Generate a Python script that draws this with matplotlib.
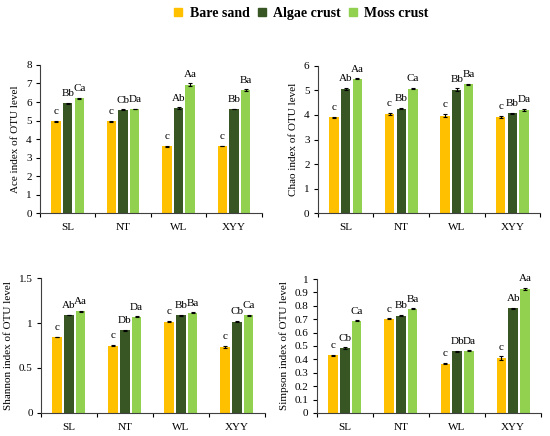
import matplotlib
matplotlib.use("Agg")
import matplotlib.pyplot as plt
from matplotlib.ticker import FuncFormatter
from matplotlib.lines import Line2D
import numpy as np

plt.rcParams['font.family'] = ['Liberation Serif', 'DejaVu Serif']

sites = ["SL", "NT", "WL", "XYY"]
series = ["Bare sand", "Algae crust", "Moss crust"]
colors = ["#FFC000", "#375623", "#92D050"]

ace_bare = [4.97, 4.95, 3.60, 3.62]
ace_algae = [5.93, 5.58, 5.68, 5.63]
ace_moss = [6.20, 5.62, 6.93, 6.65]
ace_err_bare = [0.03, 0.03, 0.03, 0.02]
ace_err_algae = [0.04, 0.02, 0.03, 0.02]
ace_err_moss = [0.02, 0.02, 0.07, 0.03]
ace_lab_bare = ["c", "c", "c", "c"]
ace_lab_algae = ["Bb", "Cb", "Ab", "Bb"]
ace_lab_moss = ["Ca", "Da", "Aa", "Ba"]

chao_bare = [3.90, 4.05, 3.97, 3.92]
chao_algae = [5.06, 4.25, 5.03, 4.06]
chao_moss = [5.47, 5.07, 5.25, 4.20]
chao_err_bare = [0.02, 0.04, 0.07, 0.03]
chao_err_algae = [0.03, 0.02, 0.05, 0.02]
chao_err_moss = [0.02, 0.02, 0.03, 0.04]
chao_lab_bare = ["c", "c", "c", "c"]
chao_lab_algae = ["Ab", "Bb", "Bb", "Bb"]
chao_lab_moss = ["Aa", "Ca", "Ba", "Da"]

shan_bare = [0.845, 0.750, 1.015, 0.735]
shan_algae = [1.090, 0.920, 1.085, 1.015]
shan_moss = [1.130, 1.070, 1.115, 1.085]
shan_err_bare = [0.005, 0.004, 0.005, 0.008]
shan_err_algae = [0.005, 0.004, 0.005, 0.008]
shan_err_moss = [0.005, 0.004, 0.004, 0.008]
shan_lab_bare = ["c", "c", "c", "c"]
shan_lab_algae = ["Ab", "Db", "Bb", "Cb"]
shan_lab_moss = ["Aa", "Da", "Ba", "Ca"]

simp_bare = [0.430, 0.702, 0.368, 0.410]
simp_algae = [0.485, 0.725, 0.460, 0.780]
simp_moss = [0.688, 0.777, 0.463, 0.925]
simp_err_bare = [0.004, 0.004, 0.004, 0.012]
simp_err_algae = [0.004, 0.004, 0.004, 0.004]
simp_err_moss = [0.003, 0.003, 0.004, 0.010]
simp_lab_bare = ["c", "c", "c", "c"]
simp_lab_algae = ["Cb", "Bb", "Db", "Ab"]
simp_lab_moss = ["Ca", "Ba", "Da", "Aa"]

panels = [
    dict(vals=[ace_bare, ace_algae, ace_moss], errs=[ace_err_bare, ace_err_algae, ace_err_moss],
         labs=[ace_lab_bare, ace_lab_algae, ace_lab_moss], ylabel="Ace index of OTU level",
         ylim=8, step=1, rect=[0.0727, 0.511, 0.403, 0.340]),
    dict(vals=[chao_bare, chao_algae, chao_moss], errs=[chao_err_bare, chao_err_algae, chao_err_moss],
         labs=[chao_lab_bare, chao_lab_algae, chao_lab_moss], ylabel="Chao index of OTU level",
         ylim=6, step=1, rect=[0.578, 0.511, 0.404, 0.338]),
    dict(vals=[shan_bare, shan_algae, shan_moss], errs=[shan_err_bare, shan_err_algae, shan_err_moss],
         labs=[shan_lab_bare, shan_lab_algae, shan_lab_moss], ylabel="Shannon index of OTU level",
         ylim=1.5, step=0.5, rect=[0.0745, 0.053, 0.407, 0.309]),
    dict(vals=[simp_bare, simp_algae, simp_moss], errs=[simp_err_bare, simp_err_algae, simp_err_moss],
         labs=[simp_lab_bare, simp_lab_algae, simp_lab_moss], ylabel="Simpson index of OTU level",
         ylim=1.0, step=0.1, rect=[0.576, 0.053, 0.408, 0.307]),
]

fig = plt.figure(figsize=(5.5, 4.36), dpi=100)
x = np.arange(len(sites))
width = 0.17
offs = [-0.21, 0.0, 0.21]

for p in panels:
    ax = fig.add_axes(p["rect"])
    for i in range(3):
        ax.bar(x + offs[i], p["vals"][i], width, color=colors[i], zorder=2)
        ax.errorbar(x + offs[i], p["vals"][i], yerr=p["errs"][i], fmt="none",
                    ecolor="black", elinewidth=0.8, capsize=1.5, capthick=0.8, zorder=3)
        for xi, v, e, t in zip(x + offs[i], p["vals"][i], p["errs"][i], p["labs"][i]):
            ax.annotate(t, (xi, v + e), xytext=(0, 3.5), textcoords="offset points",
                        ha="center", va="bottom", fontsize=8)
    ax.set_xlim(-0.5, 3.5)
    ax.set_ylim(0, p["ylim"])
    ax.set_yticks(np.arange(0, p["ylim"] + p["step"] / 2, p["step"]))
    ax.yaxis.set_major_formatter(FuncFormatter(lambda v, pos: "%g" % round(v, 2)))
    ax.set_xticks(np.arange(-0.5, 3.6, 1.0))
    ax.set_xticklabels([])
    ax.set_xticks(x, minor=True)
    ax.set_xticklabels(sites, minor=True, fontsize=8)
    ax.tick_params(axis="x", which="minor", length=0, pad=7)
    ax.tick_params(axis="x", which="major", length=3, direction="out")
    ax.tick_params(axis="y", length=3, direction="out", labelsize=8, pad=3)
    for s in ["top", "right"]:
        ax.spines[s].set_visible(False)
    for s in ["left", "bottom"]:
        ax.spines[s].set_color("#404040")
        ax.spines[s].set_linewidth(0.8)
    ax.set_ylabel(p["ylabel"], fontsize=8, labelpad=4)

handles = [Line2D([0], [0], marker="s", linestyle="none", markersize=6,
                  markerfacecolor=c, markeredgecolor=c) for c in colors]
fig.legend(handles, series, loc="upper center", bbox_to_anchor=(0.547, 1.012), ncol=3,
           frameon=False, handlelength=0.8, handletextpad=0.4, columnspacing=0.5,
           prop={"weight": "bold", "size": 10, "family": "Liberation Serif"})

fig.savefig("out.png", dpi=100)
